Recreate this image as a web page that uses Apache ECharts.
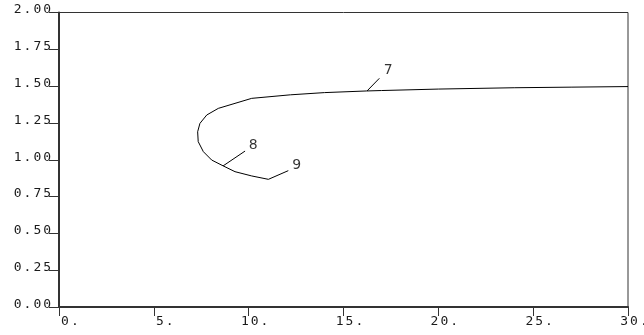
<!DOCTYPE html>
<html><head><meta charset="utf-8">
<script src="https://cdn.jsdelivr.net/npm/echarts@6/dist/echarts.min.js"></script>
<style>html,body{margin:0;padding:0;background:#fff}#c{width:644px;height:335px}</style>
</head><body><div id="c"></div>
<script>
const xTickLabels = [' 0.', ' 5.', '10.', '15.', '20.', '25.', '30.'];
const yTickLabels = ['0.00', '0.25', '0.50', '0.75', '1.00', '1.25', '1.50', '1.75', '2.00'];
const curveX = [30, 27, 24, 20, 17, 16.2, 14, 12.2, 10.16, 8.40, 7.79, 7.43, 7.31, 7.34, 7.61, 8.05, 8.66, 9.28, 10.16, 11.04];
const curveY = [1.497, 1.493, 1.489, 1.480, 1.470, 1.467, 1.456, 1.441, 1.417, 1.349, 1.304, 1.247, 1.190, 1.123, 1.055, 0.998, 0.958, 0.919, 0.890, 0.867];
const noteText = ['7', '8', '9'];
const noteAnchorX = [16.24, 8.65, 11.04];
const noteAnchorY = [1.467, 0.958, 0.867];
const noteEndX = [16.89, 9.81, 12.09];
const noteEndY = [1.553, 1.059, 0.926];
const noteLabelX = [17.36, 10.24, 12.53];
const noteLabelY = [1.604, 1.100, 0.962];

const monoFont = 'DejaVu Sans Mono';
function cells(s) { return s.split('').map(ch => '{c|' + ch + '}').join(''); }
const richCells = { c: { width: 9.8, align: 'center', fontFamily: monoFont, fontSize: 13, color: '#1a1a1a', lineHeight: 14 } };

const chart = echarts.init(document.getElementById('c'), null, { renderer: 'canvas' });
chart.setOption({
  animation: false,
  backgroundColor: '#fff',
  grid: { left: 59, right: 16, top: 12.5, bottom: 28, outerBoundsMode: 'none', containLabel: false, show: true, borderColor: '#333', borderWidth: 1, backgroundColor: 'transparent' },
  xAxis: {
    type: 'value', min: 0, max: 30, interval: 5,
    axisLine: { show: true, lineStyle: { color: '#333', width: 2 } },
    axisTick: { show: true, length: 9, lineStyle: { color: '#333', width: 1 } },
    splitLine: { show: false },
    axisLabel: {
      show: true, showMaxLabel: true, showMinLabel: true, hideOverlap: false, margin: 8, padding: [0, 0, 0, 12],
      formatter: v => cells(xTickLabels[Math.round(v / 5)] || ''),
      rich: richCells
    }
  },
  yAxis: {
    type: 'value', min: 0, max: 2, interval: 0.25,
    axisLine: { show: true, lineStyle: { color: '#333', width: 2 } },
    axisTick: { show: true, length: 10, lineStyle: { color: '#333', width: 1 } },
    splitLine: { show: false },
    axisLabel: {
      show: true, margin: 7, padding: [0, 0, 5, 0],
      formatter: v => cells(yTickLabels[Math.round(v / 0.25)] || ''),
      rich: richCells
    }
  },
  series: [
    {
      type: 'line',
      data: curveX.map((x, i) => [x, curveY[i]]),
      showSymbol: false, symbol: 'none', smooth: false,
      lineStyle: { color: '#000', width: 1 },
      markLine: {
        silent: true, symbol: ['none', 'none'], animation: false,
        label: { show: false },
        lineStyle: { color: '#000', width: 1, type: 'solid' },
        data: noteText.map((t, i) => [
          { coord: [noteAnchorX[i], noteAnchorY[i]] },
          { coord: [noteEndX[i], noteEndY[i]] }
        ])
      }
    },
    {
      type: 'scatter',
      symbolSize: 1,
      itemStyle: { color: 'rgba(0,0,0,0)' },
      data: noteText.map((t, i) => ({ value: [noteLabelX[i], noteLabelY[i]], name: t })),
      label: {
        show: true, position: 'inside', formatter: p => p.name,
        fontFamily: 'DejaVu Sans', fontSize: 14, color: '#000'
      }
    }
  ]
});
</script>
</body></html>
